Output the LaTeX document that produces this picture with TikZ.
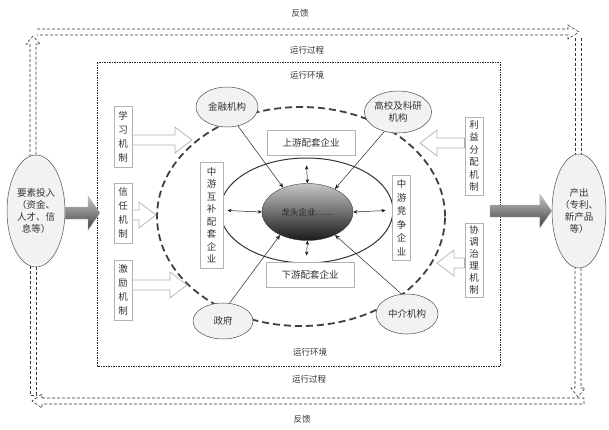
\documentclass[tikz,border=0pt]{standalone}
\usepackage{fontspec}
\setmainfont{Noto Sans CJK SC}
\usetikzlibrary{shapes.geometric,calc,arrows.meta}
\newcommand\hollowR[2]{\draw[hollowar] let \p1=(#1), \p2=(#2) in
  (\x1,\y2+5pt) -- (\x2-17pt,\y2+5pt) -- (\x2-17pt,\y2+13pt) -- (\x2,\y2) -- (\x2-17pt,\y2-13pt) -- (\x2-17pt,\y2-5pt) -- (\x1,\y2-5pt) -- cycle;}
\newcommand\hollowL[2]{\draw[hollowar] let \p1=(#1), \p2=(#2) in
  (\x1,\y2+5pt) -- (\x2+17pt,\y2+5pt) -- (\x2+17pt,\y2+13pt) -- (\x2,\y2) -- (\x2+17pt,\y2-13pt) -- (\x2+17pt,\y2-5pt) -- (\x1,\y2-5pt) -- cycle;}
\newcommand\gradR[2]{\draw[gradar] let \p1=(#1), \p2=(#2) in
  (\x1,\y2+6pt) -- (\x2-12pt,\y2+6pt) -- (\x2-12pt,\y2+17pt) -- (\x2,\y2) -- (\x2-12pt,\y2-17pt) -- (\x2-12pt,\y2-6pt) -- (\x1,\y2-6pt) -- cycle;}
\begin{document}
\begin{tikzpicture}[x=1pt,y=-1pt,
  txt/.style={font=\fontsize{8.5}{10}\selectfont, text=black!80},
  oval/.style={ellipse, draw=gray!60!black, fill=gray!10, inner sep=0pt, line width=0.5pt,
    align=center, text=black!80, font=\fontsize{9.5}{12}\selectfont},
  vbox/.style={draw=gray!60, line width=1pt, fill=white, inner sep=2pt, align=center,
    text=black!80, minimum width=18pt},
  hbox/.style={draw=gray!60, line width=1pt, fill=white, minimum width=88pt, minimum height=25pt,
    text=black!80, font=\fontsize{9.5}{11}\selectfont},
  hollowar/.style={draw=gray!60, fill=white, line width=0.7pt},
  gradar/.style={draw=gray!60, top color=gray!45, bottom color=black!75, line width=0.4pt},
  fb/.style={draw=gray!40!black, densely dashed, line width=0.6pt},
  thinar/.style={-{Stealth[length=5pt,width=4pt]}, draw=gray!30!black, line width=0.5pt},
  dblar/.style={{Stealth[length=4pt,width=3.5pt]}-{Stealth[length=4pt,width=3.5pt]}, draw=gray!20!black, line width=0.5pt}]
\useasboundingbox (0,0) rectangle (609,429);

% feedback loops
\draw[fb] (30,157) -- (30,44) -- (26,44) -- (33,36) -- (40,44) -- (36,44) -- (36,157);
\draw[fb] (37,29) -- (568,29) -- (568,25) -- (579,32) -- (568,39) -- (568,35) -- (37,35);
\draw[fb] (575,38) -- (575,157);
\draw[fb] (581,38) -- (581,157);
\draw[fb] (575,266) -- (575,388) -- (571,388) -- (578,397) -- (585,388) -- (581,388) -- (581,266);
\draw[fb] (42,398) -- (584,398) -- (584,404) -- (42,404) -- (42,408) -- (32,401) -- (42,394) -- cycle;
\draw[fb] (30,266) -- (30,395) -- (36,395) -- (36,266);

% labels
\node[txt] (fbT) at (300,13) {反馈};
\node[txt] (procT) at (307,50) {运行过程};
\node[txt] (envT) at (307,75) {运行环境};
\node[txt] (envB) at (310,352) {运行环境};
\node[txt] (procB) at (309,379) {运行过程};
\node[txt] (fbB) at (302,419) {反馈};

% environment box
\draw[gray!30!black, line width=0.8pt, dash pattern=on 1.5pt off 1pt] (97,62) rectangle (500,366);

% input / output
\node[oval, minimum width=58pt, minimum height=112pt] (in) at (36,211) {要素投入\\（资金、\\人才、信\\息等）};
\node[oval, minimum width=54pt, minimum height=114pt] (out) at (579,211) {产出\\（专利、\\新产品\\等）};
\coordinate (gt1) at (100,213);
\coordinate (gs2) at (490,210);
\gradR{in.east}{gt1}
\gradR{gs2}{out.west}

% big ellipses
\node[ellipse, draw=black!75, line width=1.8pt, dash pattern=on 7pt off 4pt,
  minimum width=288pt, minimum height=219pt] (envel) at (301,216.5) {};
\node[ellipse, draw=black!80, line width=1pt, minimum width=173pt, minimum height=105pt] (clus) at (306.5,210.5) {};
\node[ellipse, inner sep=0pt, minimum width=91pt, minimum height=57pt, top color=gray!45, bottom color=black!90,
  draw=gray!50!black, line width=0.4pt, text=black!85, font=\fontsize{8.5}{10}\selectfont] (core) at (307.5,212) {龙头企业……};

\draw[dblar] (core.north) -- ([yshift=-8pt]clus.north);
\draw[dblar] (core.south) -- ([yshift=8pt]clus.south);
\draw[dblar] (core.west) -- ([xshift=8pt]clus.west);
\draw[dblar] (core.east) -- ([xshift=-8pt]clus.east);

% upstream / downstream / midstream boxes
\node[hbox] (up) at (311,142.5) {上游配套企业};
\node[hbox] (down) at (310,274.5) {下游配套企业};
\node[vbox, minimum width=23pt, minimum height=106pt, font=\fontsize{9.5}{12.5}\selectfont] (midL) at (211.5,215) {中\\游\\互\\补\\配\\套\\企\\业};
\node[vbox, minimum height=85pt, font=\fontsize{9.5}{13.5}\selectfont] (midR) at (401.5,217.5) {中\\游\\竞\\争\\企\\业};

% mechanisms
\node[vbox, minimum height=61pt, font=\fontsize{9.5}{14}\selectfont] (xx) at (123,136.5) {学\\习\\机\\制};
\node[vbox, minimum height=60pt, font=\fontsize{9.5}{14}\selectfont] (xr) at (123,213) {信\\任\\机\\制};
\node[vbox, minimum height=60pt, font=\fontsize{9.5}{14}\selectfont] (jl) at (123,290) {激\\励\\机\\制};
\node[vbox, minimum height=78pt, font=\fontsize{9.5}{12.5}\selectfont] (ly) at (474,156) {利\\益\\分\\配\\机\\制};
\node[vbox, minimum height=74pt, font=\fontsize{9.5}{12}\selectfont] (xt) at (474,260) {协\\调\\治\\理\\机\\制};

\coordinate (t1) at (192,140);
\coordinate (t2) at (156,215);
\coordinate (t3) at (187,285);
\coordinate (t4) at (420,143);
\coordinate (t5) at (437,263);
\hollowR{xx.east}{t1}
\hollowR{xr.east}{t2}
\hollowR{jl.east}{t3}
\hollowL{ly.west}{t4}
\hollowL{xt.west}{t5}

% satellites
\node[oval, minimum width=62pt, minimum height=40pt] (jr) at (227,107) {金融机构};
\node[oval, minimum width=66pt, minimum height=42pt] (gx) at (398,112) {高校及科研\\机构};
\node[oval, minimum width=60pt, minimum height=36pt] (zf) at (223,321) {政府};
\node[oval, minimum width=62pt, minimum height=40pt] (zj) at (407,314) {中介机构};

\draw[thinar] (jr.-60) -- (core.135);
\draw[thinar] (gx.-125) -- (core.40);
\draw[thinar] (zf.70) -- (core.220);
\draw[thinar] (zj.105) -- (core.-40);
\end{tikzpicture}
\end{document}
